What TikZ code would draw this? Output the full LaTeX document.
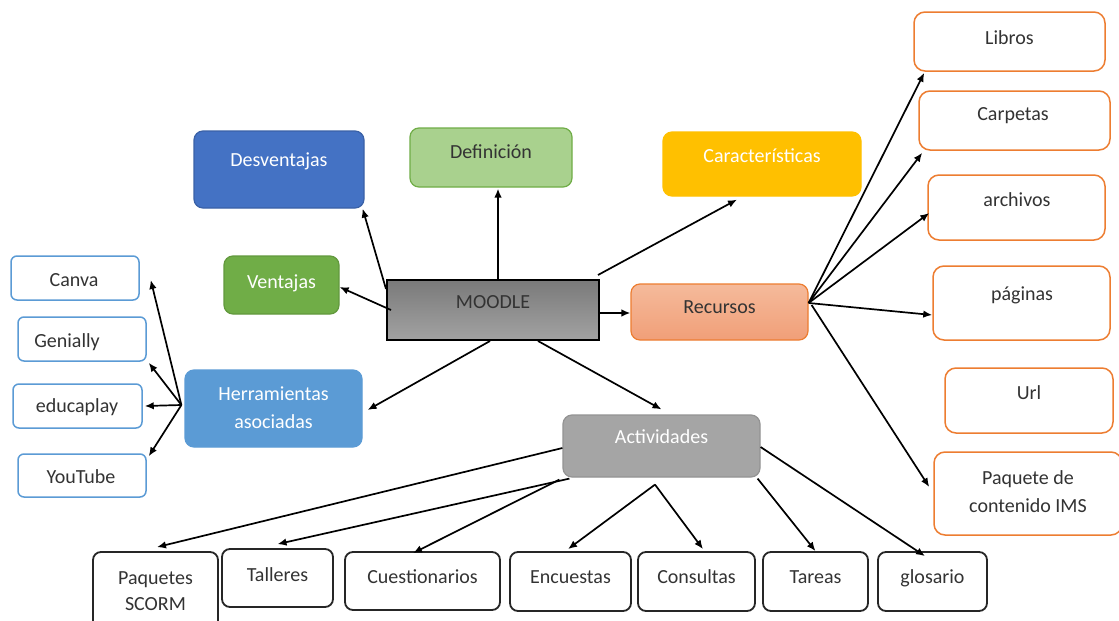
\documentclass[tikz,border=0pt]{standalone}
\usepackage{fontspec}
\setmainfont{Carlito}
\usetikzlibrary{arrows.meta,calc}
\definecolor{cBlueD}{HTML}{4472C4}
\definecolor{cBlueDb}{HTML}{3A64AF}
\definecolor{cBlueL}{HTML}{5B9BD5}
\definecolor{cGreenL}{HTML}{A9D18E}
\definecolor{cGreen}{HTML}{70AD47}
\definecolor{cGreenb}{HTML}{62993D}
\definecolor{cGold}{HTML}{FFC000}
\definecolor{cOrange}{HTML}{ED7D31}
\definecolor{cSalTop}{HTML}{F5BA9B}
\definecolor{cSalBot}{HTML}{F19F78}
\definecolor{cGray}{HTML}{A5A5A5}
\definecolor{cGrayb}{HTML}{939393}
\definecolor{cMooTop}{HTML}{7A7A7A}
\definecolor{cMooBot}{HTML}{A2A2A2}
\definecolor{cTxt}{HTML}{333333}
\definecolor{cEdge}{HTML}{262626}
\begin{document}
\begin{tikzpicture}[x=1pt,y=-1pt,
  shp/.style={inner sep=0pt, rounded corners=9pt, line width=1.2pt},
  solid/.style={shp, draw=#1!85!black, fill=#1},
  bluebox/.style={shp, draw=cBlueL, fill=white, line width=1.5pt, rounded corners=6pt, minimum width=128pt, minimum height=44pt},
  orbox/.style={shp, draw=cOrange, fill=white, line width=1.5pt, rounded corners=11pt},
  blbox/.style={shp, draw=cEdge, fill=white, line width=1.8pt, rounded corners=8pt},
  txt/.style={inner sep=0pt, font=\fontsize{20}{28}\selectfont, text=cTxt, text height=0.7em, text depth=0.2em, yshift=-4pt},
  wtxt/.style={txt, text=white},
  mtxt/.style={inner sep=0pt, font=\fontsize{20}{28}\selectfont, text=cTxt, align=center},
  arr/.style={draw=black, line width=1.7pt, -{Latex[length=9pt,width=7.5pt]}}]
\useasboundingbox[fill=white] (0,0) rectangle (1119,621);

% main filled boxes
\node[solid=cBlueD, minimum width=170pt, minimum height=77pt] (desv) at (279,169.5) {};
\node[wtxt] (desvT) at (279,160) {Desventajas};
\node[shp, draw=cGreen, fill=cGreenL, minimum width=162pt, minimum height=59pt] (defi) at (491,157.5) {};
\node[txt] (defiT) at (491,152) {Definición};
\node[shp, draw=cGold, fill=cGold, minimum width=198pt, minimum height=64pt] (carac) at (762,164) {};
\node[wtxt] (caracT) at (762,156) {Características};
\node[shp, draw=cGreenb, fill=cGreen, minimum width=115pt, minimum height=58pt] (vent) at (281.5,285) {};
\node[wtxt] (ventT) at (281.5,282) {Ventajas};
\node[inner sep=0pt, draw=black, line width=2pt, top color=cMooTop, bottom color=cMooBot, minimum width=212pt, minimum height=60pt] (moodle) at (493,310) {};
\node[txt] (moodleT) at (493,302) {MOODLE};
\node[shp, draw=cOrange, top color=cSalTop, bottom color=cSalBot, minimum width=177pt, minimum height=56pt] (recur) at (719.5,312) {};
\node[txt] (recurT) at (719.5,307) {Recursos};
\node[shp, draw=cBlueL, fill=cBlueL, minimum width=177pt, minimum height=77pt] (herr) at (273.5,408.5) {};
\node[mtxt, text=white] (herrT) at (273.5,408) {Herramientas\\asociadas};
\node[shp, draw=cGrayb, fill=cGray, minimum width=197pt, minimum height=62pt] (activ) at (661.5,446) {};
\node[wtxt] (activT) at (661.5,437) {Actividades};

% tools
\node[bluebox] (canva) at (75,278) {};
\node[txt] (canvaT) at (74,280) {Canva};
\node[bluebox] (genially) at (82,339) {};
\node[txt] (geniallyT) at (67,341) {Genially};
\node[bluebox, minimum width=129pt] (educa) at (77.5,406) {};
\node[txt] (educaT) at (77,406) {educaplay};
\node[bluebox, minimum height=43pt] (yt) at (82,475.5) {};
\node[txt] (ytT) at (81,477) {YouTube};

% resources
\node[orbox, minimum width=191pt, minimum height=59pt] (libros) at (1009.5,41.5) {};
\node[txt] (librosT) at (1009.5,38) {Libros};
\node[orbox, minimum width=191pt, minimum height=59pt] (carpetas) at (1014.5,120.5) {};
\node[txt] (carpetasT) at (1013,114) {Carpetas};
\node[orbox, minimum width=177pt, minimum height=65pt] (archivos) at (1016.5,207.5) {};
\node[txt] (archivosT) at (1017,200) {archivos};
\node[orbox, minimum width=177pt, minimum height=74pt] (paginas) at (1021.5,303) {};
\node[txt] (paginasT) at (1022,294) {páginas};
\node[orbox, minimum width=168pt, minimum height=65pt] (url) at (1029,400.5) {};
\node[txt] (urlT) at (1029,393) {Url};
\node[orbox, minimum width=188pt, minimum height=83pt] (ims) at (1028,493.5) {};
\node[mtxt] (imsT) at (1028,492) {Paquete de\\contenido IMS};

% activities
\node[blbox, minimum width=125pt, minimum height=78pt] (scorm) at (155.5,591) {};
\node[mtxt, font=\fontsize{20}{26}\selectfont] (scormT) at (155.5,591) {Paquetes\\SCORM};
\node[blbox, minimum width=111pt, minimum height=58pt] (talleres) at (277.5,578) {};
\node[txt] (talleresT) at (277.5,575) {Talleres};
\node[blbox, minimum width=155pt, minimum height=58pt] (cuest) at (422.5,581) {};
\node[txt] (cuestT) at (422.5,577) {Cuestionarios};
\node[blbox, minimum width=121pt, minimum height=59pt] (encu) at (570.5,581.5) {};
\node[txt] (encuT) at (570.5,577) {Encuestas};
\node[blbox, minimum width=117pt, minimum height=59pt] (consul) at (696.5,581.5) {};
\node[txt] (consulT) at (696.5,577) {Consultas};
\node[blbox, minimum width=105pt, minimum height=59pt] (tareas) at (815.5,581.5) {};
\node[txt] (tareasT) at (815.5,577) {Tareas};
\node[blbox, minimum width=109pt, minimum height=59pt] (glos) at (932.5,581.5) {};
\node[txt] (glosT) at (932.5,577) {glosario};

% connectors from MOODLE
\draw[arr] ([yshift=-10pt]moodle.north west) -- ([xshift=-2pt]desv.south east);
\draw[arr] ([xshift=5pt]moodle.north) -- ([xshift=7pt,yshift=-1pt]defi.south);
\draw[arr] ([xshift=5pt]moodle.west) -- ([yshift=-2pt]vent.east);
\draw[arr] ([shift={(-2pt,4pt)}]moodle.north east) -- ([shift={(-25pt,-3pt)}]carac.south);
\draw[arr] ([yshift=-3pt]moodle.east) -- ([yshift=-1pt]recur.west);
\draw[arr] ([xshift=-3pt]moodle.south) -- ([shift={(5pt,-1.5pt)}]herr.east);
\draw[arr] ([xshift=45pt]moodle.south) -- ([yshift=5pt]activ.north);

% tools
\coordinate (hs) at ([shift={(-3pt,3.5pt)}]herr.west);
\draw[arr] (hs) -- ([shift={(11pt,-2pt)}]canva.east);
\draw[arr] (hs) -- ([shift={(2pt,-1pt)}]genially.south east);
\draw[arr] (hs) -- ([xshift=2pt]educa.east);
\draw[arr] (hs) -- ([shift={(2pt,-3pt)}]yt.north east);

% resources
\coordinate (rs) at ([yshift=9pt]recur.east);
\draw[arr] (rs) -- ([shift={(11pt,-1pt)}]libros.south west);
\draw[arr] (rs) -- ([shift={(4pt,-2pt)}]carpetas.south west);
\draw[arr] (rs) -- ([shift={(2pt,-5.5pt)}]archivos.west);
\draw[arr] (rs) -- ([yshift=-12pt]paginas.west);
\draw[arr] ([shift={(3pt,-2pt)}]rs) -- ([shift={(-4pt,6.5pt)}]ims.west);

% activities
\coordinate (ab) at ([shift={(-6.5pt,-7pt)}]activ.south);
\draw[arr] ([yshift=-2pt]activ.west) -- ([shift={(1.5pt,4pt)}]scorm.north);
\draw[arr] ([shift={(7pt,-1pt)}]activ.south west) -- ([yshift=4pt]talleres.north);
\draw[arr] ([shift={(-3pt,-2pt)}]activ.south west) -- ([shift={(-9.5pt,-2pt)}]cuest.north);
\draw[arr] (ab) -- ([shift={(-2.5pt,2pt)}]encu.north);
\draw[arr] (ab) -- ([shift={(6.5pt,2pt)}]consul.north);
\draw[arr] ([shift={(-3pt,-1pt)}]activ.south east) -- (tareas.north);
\draw[arr] ([yshift=-1pt]activ.east) -- ([shift={(-7.5pt,-5pt)}]glos.north);
\end{tikzpicture}
\end{document}
